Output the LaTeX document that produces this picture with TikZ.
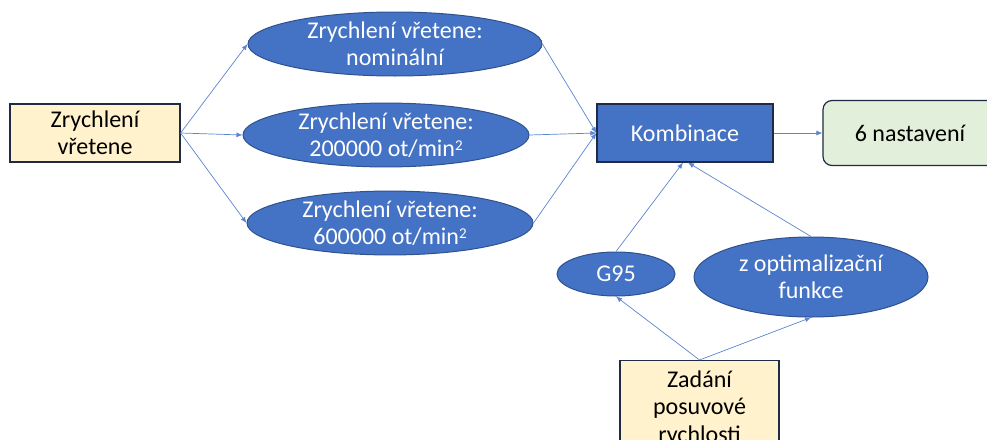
\documentclass[tikz,border=0pt]{standalone}
\usepackage{fontspec}
\setmainfont{Carlito}
\usetikzlibrary{arrows.meta,shapes.geometric}
\definecolor{accent}{HTML}{4472C4}
\definecolor{accentdark}{HTML}{2F528F}
\definecolor{navy}{HTML}{1F2A44}
\definecolor{paleyellow}{HTML}{FFF2CC}
\definecolor{palegreen}{HTML}{E2EFDA}
\definecolor{linkblue}{HTML}{5B84D0}
\newcommand{\sqr}{\raisebox{6pt}{\fontsize{15}{15}\selectfont 2}}
\begin{document}
\begin{tikzpicture}[x=1pt,y=-1pt,
  every node/.style={font=\fontsize{24}{27.5}\selectfont, align=center, inner sep=0pt},
  inbox/.style={draw=navy, line width=1.2pt, fill=paleyellow, text=black},
  oval/.style={ellipse, draw=accentdark, line width=1pt, fill=accent, text=white},
  combo/.style={draw=navy, line width=1.2pt, fill=accent, text=white},
  result/.style={draw=navy, line width=1.2pt, fill=palegreen, rounded corners=9pt, text=black},
  link/.style={draw=linkblue, line width=0.7pt, -{Latex[length=6pt,width=5pt]}}]
\useasboundingbox (0,0) rectangle (987,439);

% input boxes
\node[inbox, minimum width=170pt, minimum height=58pt] (spindle) at (95,133) {Zrychlení\\vřetene};
\node[inbox, minimum width=159pt, minimum height=95pt, anchor=north] (feed) at (699.5,360)
  {\rule{0pt}{16pt}Zadání\\posuvové\\rychlosti};

% spindle acceleration variants
\node[oval, minimum width=294pt, minimum height=64pt] (nom) at (395,44) {Zrychlení vřetene:\\nominální};
\node[oval, minimum width=286pt, minimum height=60pt] (a2) at (386,135) {Zrychlení vřetene:\\200000 ot/min\sqr};
\node[oval, minimum width=286pt, minimum height=60pt] (a6) at (390,223) {Zrychlení vřetene:\\600000 ot/min\sqr};

% feed rate sources
\node[oval, minimum width=118pt, minimum height=44pt] (g95) at (616,274) {G95};
\node[oval, minimum width=234pt, minimum height=80pt] (opt) at (811,277) {z optimalizační\\funkce};

% combination and result
\node[combo, minimum width=176pt, minimum height=58pt] (comb) at (685,133) {Kombinace};
\node[result, minimum width=174pt, minimum height=65pt] (res) at (910,133) {6 nastavení};

% connectors
\draw[link] (spindle.east) -- (nom.west);
\draw[link] (spindle.east) -- (a2.west);
\draw[link] (spindle.east) -- (a6.west);
\draw[link] (nom.east) -- (comb.west);
\draw[link] (a2.east) -- (comb.west);
\draw[link] (a6.east) -- (comb.west);
\draw[link] (comb.east) -- (res.west);
\draw[link] (g95.north) -- ([xshift=-2pt]comb.south);
\draw[link] (opt.north) -- ([xshift=3pt]comb.south);
\draw[link] (feed.north) -- (g95.south);
\draw[link] (feed.north) -- (opt.south);
\end{tikzpicture}
\end{document}
